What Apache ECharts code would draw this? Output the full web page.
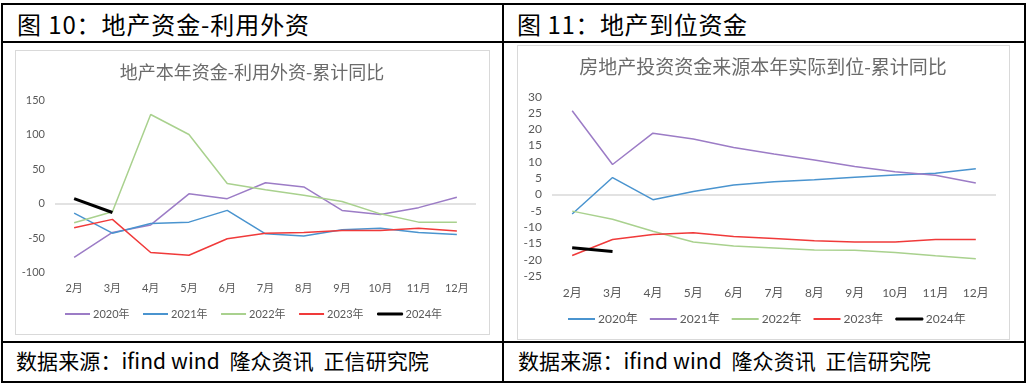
<!DOCTYPE html>
<html>
<head>
<meta charset="utf-8">
<script src="https://cdn.jsdelivr.net/npm/echarts@6/dist/echarts.min.js"></script>
<style>
  html, body { margin:0; padding:0; background:#fff; }
  body { width:1029px; height:387px; position:relative; overflow:hidden; font-family:"Noto Sans CJK SC", sans-serif; }
  .ln { position:absolute; background:#000; }
  .txt { position:absolute; white-space:nowrap; color:#000; }
  .box { position:absolute; border:1px solid #d9d9d9; box-sizing:border-box; }
  .chart { position:absolute; }
</style>
</head>
<body>
<div class="ln" style="left:1px;top:3px;width:1025px;height:2px"></div>
<div class="ln" style="left:1px;top:381px;width:1025px;height:2px"></div>
<div class="ln" style="left:1px;top:3px;width:2px;height:380px"></div>
<div class="ln" style="left:1024px;top:3px;width:2px;height:380px"></div>
<div class="ln" style="left:502px;top:3px;width:2px;height:380px"></div>
<div class="ln" style="left:1px;top:41px;width:1025px;height:2px"></div>
<div class="ln" style="left:1px;top:341px;width:1025px;height:2px"></div>

<div class="txt" id="h1" style="left:17px;top:8px;font-size:24px;line-height:32px;letter-spacing:0.9px">图 10：地产资金-利用外资</div>
<div class="txt" id="h2" style="left:517px;top:8px;font-size:24px;line-height:32px;letter-spacing:0.6px">图 11：地产到位资金</div>
<div class="txt" id="f1" style="left:16px;top:345px;font-size:21px;line-height:30px;letter-spacing:0.1px">数据来源：ifind wind&nbsp; 隆众资讯&nbsp; 正信研究院</div>
<div class="txt" id="f2" style="left:518px;top:345px;font-size:21px;line-height:30px;letter-spacing:0.1px">数据来源：ifind wind&nbsp; 隆众资讯&nbsp; 正信研究院</div>

<div class="box" style="left:15px;top:50px;width:475px;height:285px"></div>
<div class="box" style="left:517px;top:45px;width:493px;height:295px"></div>
<div class="chart" id="c1" style="left:15px;top:50px;width:474px;height:284px"></div>
<div class="chart" id="c2" style="left:517px;top:45px;width:492px;height:294px"></div>

<script>
// ---- shared categories ----
var months = ['2月','3月','4月','5月','6月','7月','8月','9月','10月','11月','12月'];
var years = ['2020年','2021年','2022年','2023年','2024年'];

// ---- Chart 1: 地产本年资金-利用外资-累计同比 ----
var title1 = '地产本年资金-利用外资-累计同比';
var fx2020 = [-78, -42, -31, 14, 7, 30, 24, -10, -16, -6, 9];
var fx2021 = [-14, -43, -29, -27, -10, -44, -47, -38, -36, -42, -45];
var fx2022 = [-28, -12, 129, 100, 29, 20, 12, 3, -15, -27, -27];
var fx2023 = [-35, -23, -71, -75, -51, -43, -42, -39, -39, -36, -40];
var fx2024 = [7, -13];
var yTicks1 = {min:-100, max:150, interval:50};

// ---- Chart 2: 房地产投资资金来源本年实际到位-累计同比 ----
var title2 = '房地产投资资金来源本年实际到位-累计同比';
var dw2020 = [-6.0, 5.2, -1.6, 0.9, 2.9, 3.9, 4.5, 5.3, 6.0, 6.5, 7.9];
var dw2021 = [25.7, 9.2, 18.8, 17.0, 14.4, 12.4, 10.6, 8.6, 7.0, 5.9, 3.5];
var dw2022 = [-5.1, -7.6, -11.3, -14.6, -15.8, -16.4, -17.0, -17.1, -17.8, -18.8, -19.7];
var dw2023 = [-18.7, -13.8, -12.3, -11.7, -12.9, -13.5, -14.2, -14.6, -14.6, -13.8, -13.8];
var dw2024 = [-16.3, -17.5];
var yTicks2 = {min:-25, max:30, interval:5};

var PURPLE = '#9c7cc6', BLUE = '#4a94cf', GREEN = '#a9d18e', RED = '#f03a3a', BLACK = '#000000';
var LABEL = '#595959';
var NUMFONT = 'Lato, "Noto Sans CJK SC", sans-serif';

function buildOption(cfg) {
  var series = cfg.data.map(function (d, i) {
    var s = {
      name: years[i], type: 'line', data: d, symbol: 'none', smooth: false,
      lineStyle: { color: cfg.colors[i], width: i === 4 ? 3 : cfg.lw },
      itemStyle: { color: cfg.colors[i] },
      z: i === 4 ? 5 : 3, silent: true
    };
    if (i === 0) {
      s.markLine = {
        silent: true, symbol: 'none', label: { show: false },
        lineStyle: { color: '#d9d9d9', type: 'solid', width: 1.5 },
        data: [{ yAxis: 0 }], z: 1
      };
    }
    return s;
  });
  var legendData = years.map(function (y, i) {
    return {
      name: y, icon: 'rect',
      itemStyle: i === 4 ? { color: BLACK, borderColor: BLACK, borderWidth: 1 }
                         : { color: cfg.colors[i], borderWidth: 0 }
    };
  });
  return {
    animation: false,
    backgroundColor: 'transparent',
    graphic: [{
      type: 'text', left: 'center', top: cfg.titleTop,
      style: { text: cfg.title, fill: '#6b6b6b', font: cfg.titleSize + 'px "Noto Sans CJK SC", sans-serif' }
    }],
    grid: cfg.grid,
    legend: {
      left: cfg.legendLeft, top: cfg.legendTop, padding: 0,
      itemWidth: cfg.legendIconW, itemHeight: 2,
      itemGap: cfg.legendGap, data: legendData,
      textStyle: { color: LABEL, fontSize: cfg.legendFont, fontFamily: NUMFONT, padding: [0, 0, 0, -2] }
    },
    xAxis: {
      type: 'category', data: months, boundaryGap: true,
      axisLine: { show: false, onZero: false }, axisTick: { show: false },
      axisLabel: { color: LABEL, fontSize: cfg.labelFont, fontFamily: NUMFONT, margin: cfg.xMargin }
    },
    yAxis: {
      type: 'value', min: cfg.y.min, max: cfg.y.max, interval: cfg.y.interval,
      axisLine: { show: false }, axisTick: { show: false }, splitLine: { show: false },
      axisLabel: { color: LABEL, fontSize: cfg.labelFont, fontFamily: NUMFONT, margin: 10 }
    },
    series: series
  };
}

var c1 = echarts.init(document.getElementById('c1'), null, { renderer: 'canvas' });
c1.setOption(buildOption({
  title: title1, titleTop: 13, titleSize: 18,
  data: [fx2020, fx2021, fx2022, fx2023, fx2024],
  colors: [PURPLE, BLUE, GREEN, RED, BLACK], lw: 1.5,
  grid: { left: 40, right: 13, top: 50, bottom: 61.5 },
  legendLeft: 50, legendTop: 258.5, legendIconW: 25, legendGap: 13.5, legendFont: 11,
  labelFont: 11, xMargin: 10, y: yTicks1
}));

var c2 = echarts.init(document.getElementById('c2'), null, { renderer: 'canvas' });
c2.setOption(buildOption({
  title: title2, titleTop: 12, titleSize: 19,
  data: [dw2020, dw2021, dw2022, dw2023, dw2024],
  colors: [BLUE, PURPLE, GREEN, RED, BLACK], lw: 1.5,
  grid: { left: 35, right: 13, top: 51.7, bottom: 63 },
  legendLeft: 51, legendTop: 268, legendIconW: 27, legendGap: 12, legendFont: 12,
  labelFont: 12, xMargin: 11, y: yTicks2
}));
</script>
</body>
</html>
